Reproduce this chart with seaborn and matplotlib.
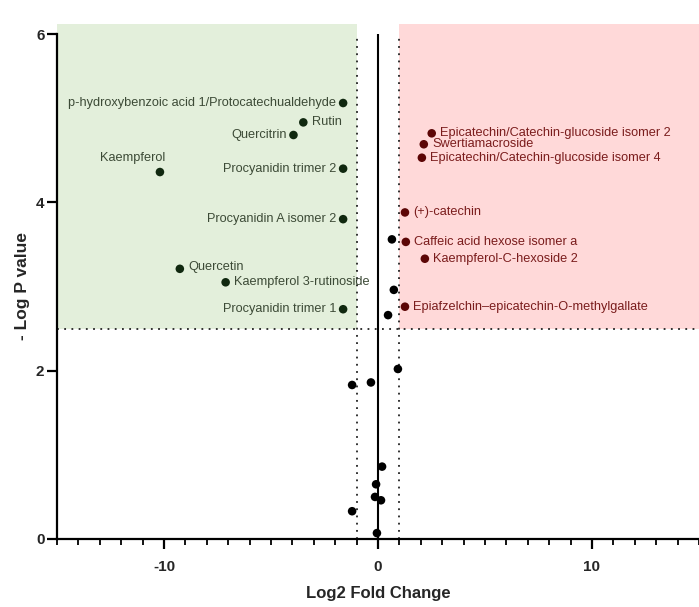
# Volcano plot
import pandas as pd
import numpy as np
import matplotlib
matplotlib.use("Agg")
import matplotlib.pyplot as plt
import seaborn as sns
from matplotlib.ticker import MultipleLocator

# down-regulated (green area)
down_names = ["p-hydroxybenzoic acid 1/Protocatechualdehyde", "Rutin", "Quercitrin",
              "Kaempferol", "Procyanidin trimer 2", "Procyanidin A isomer 2",
              "Quercetin", "Kaempferol 3-rutinoside", "Procyanidin trimer 1"]
down_fc = [-1.63, -3.49, -3.95, -10.19, -1.63, -1.63, -9.26, -7.12, -1.63]
down_p = [5.18, 4.95, 4.80, 4.36, 4.40, 3.80, 3.21, 3.05, 2.73]

# up-regulated (red area)
up_names = ["Epicatechin/Catechin-glucoside isomer 2", "Swertiamacroside",
            "Epicatechin/Catechin-glucoside isomer 4", "(+)-catechin",
            "Caffeic acid hexose isomer a", "Kaempferol-C-hexoside 2",
            "Epiafzelchin\u2013epicatechin-O-methylgallate"]
up_fc = [2.51, 2.14, 2.05, 1.26, 1.30, 2.19, 1.26]
up_p = [4.82, 4.69, 4.53, 3.88, 3.53, 3.33, 2.76]

# not significant
ns_fc = [0.65, 0.74, 0.47, 0.93, -1.21, -0.33, 0.19, -0.09, -0.14, 0.14, -1.21, -0.05]
ns_p = [3.56, 2.96, 2.66, 2.02, 1.83, 1.86, 0.86, 0.65, 0.50, 0.46, 0.33, 0.07]

fc_cut = 1
p_cut = 2.5

df = pd.concat([
    pd.DataFrame({"fc": down_fc, "p": down_p, "grp": "down"}),
    pd.DataFrame({"fc": up_fc, "p": up_p, "grp": "up"}),
    pd.DataFrame({"fc": ns_fc, "p": ns_p, "grp": "ns"}),
], ignore_index=True)

sns.set_style("ticks")
plt.rcParams["font.family"] = ["Liberation Sans", "DejaVu Sans"]
plt.rcParams["axes.unicode_minus"] = False

fig = plt.figure(figsize=(6.99, 6.07), dpi=100)
ax = fig.add_axes([57 / 699, 1 - 539 / 607, 1 - 57 / 699, (539 - 34) / 607])
ax.set_xlim(-15, 15)
ax.set_ylim(0, 6)

# shaded regions
ax.fill_between([-15, -fc_cut], p_cut, 6.12, color="#e3efdb", lw=0, clip_on=False, zorder=0)
ax.fill_between([fc_cut, 15], p_cut, 6.12, color="#ffd9d9", lw=0, clip_on=False, zorder=0)

# threshold lines
ax.axhline(p_cut, color="#222222", ls=(0, (1, 3)), lw=1.3, zorder=1)
ax.axvline(-fc_cut, color="#222222", ls=(0, (1, 3)), lw=1.3, zorder=1)
ax.axvline(fc_cut, color="#222222", ls=(0, (1, 3)), lw=1.3, zorder=1)
ax.axvline(0, color="black", lw=1.5, zorder=1)

sns.scatterplot(data=df, x="fc", y="p", hue="grp",
                palette={"down": "#10280f", "up": "#5c0606", "ns": "black"},
                s=38, edgecolor="none", legend=False, ax=ax, zorder=3)

# labels
down_off = {"p-hydroxybenzoic acid 1/Protocatechualdehyde": (-5, 0, "right"),
            "Rutin": (6, 0, "left"),
            "Quercitrin": (-5, 0, "right"),
            "Kaempferol": (-20, 10, "center"),
            "Procyanidin trimer 2": (-5, 0, "right"),
            "Procyanidin A isomer 2": (-5, 0, "right"),
            "Quercetin": (6, 1, "left"),
            "Kaempferol 3-rutinoside": (6, 0, "left"),
            "Procyanidin trimer 1": (-5, 0, "right")}
for n, x, y in zip(down_names, down_fc, down_p):
    dx, dy, ha = down_off[n]
    ax.annotate(n, (x, y), xytext=(dx, dy), textcoords="offset points",
                ha=ha, va="center", fontsize=9.2, color="#3c4a36", zorder=4)

for n, x, y in zip(up_names, up_fc, up_p):
    ax.annotate(n, (x, y), xytext=(6, 0), textcoords="offset points",
                ha="left", va="center", fontsize=9.2, color="#7a1c1c", zorder=4)

# axes styling
sns.despine(ax=ax)
for s in ["left", "bottom"]:
    ax.spines[s].set_linewidth(1.6)
    ax.spines[s].set_color("black")
ax.set_xticks([-10, 0, 10])
ax.xaxis.set_minor_locator(MultipleLocator(1))
ax.set_yticks([0, 2, 4, 6])
ax.tick_params(which="major", length=7, width=1.6, color="black", labelsize=11)
ax.tick_params(which="minor", length=4, width=1.3, color="black")
ax.tick_params(axis="x", which="major", pad=8)
ax.tick_params(axis="y", which="major", pad=2)
for lab in ax.get_xticklabels() + ax.get_yticklabels():
    lab.set_fontweight("bold")
ax.set_xlabel("Log2 Fold Change", fontsize=12, fontweight="bold", labelpad=9)
ax.set_ylabel("- Log P value", fontsize=12.5, fontweight="bold", labelpad=4)

fig.savefig("out.png", dpi=100)
